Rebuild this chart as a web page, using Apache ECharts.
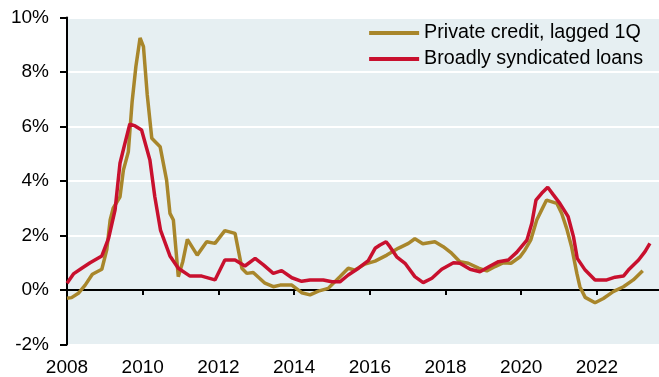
<!DOCTYPE html>
<html>
<head>
<meta charset="utf-8">
<script src="https://cdn.jsdelivr.net/npm/echarts@6/dist/echarts.min.js"></script>
<style>
  html, body { margin: 0; padding: 0; background: #fff; }
  #chart { width: 659px; height: 377px; }
</style>
</head>
<body>
<div id="chart"></div>
<script>
// series names
var seriesNames = ['Private credit, lagged 1Q', 'Broadly syndicated loans'];

// year ticks on the x axis
var yearTicks = [2008, 2010, 2012, 2014, 2016, 2018, 2020, 2022];

// private credit (lagged 1Q), default rate %
var pcDates = [2008.00, 2008.12, 2008.30, 2008.48, 2008.67, 2008.92, 2009.05, 2009.14, 2009.22, 2009.40,
  2009.49, 2009.62, 2009.72, 2009.82, 2009.93, 2010.02, 2010.12, 2010.24, 2010.46, 2010.63,
  2010.72, 2010.81, 2010.94, 2010.99, 2011.06, 2011.18, 2011.44, 2011.69, 2011.91, 2012.17,
  2012.44, 2012.62, 2012.75, 2012.92, 2013.23, 2013.45, 2013.63, 2013.94, 2014.20, 2014.42,
  2014.64, 2014.90, 2015.21, 2015.43, 2015.61, 2015.87, 2016.14, 2016.45, 2016.75, 2017.02,
  2017.19, 2017.40, 2017.72, 2017.94, 2018.16, 2018.38, 2018.60, 2018.87, 2019.09, 2019.31,
  2019.53, 2019.73, 2019.97, 2020.10, 2020.25, 2020.41, 2020.54, 2020.67, 2020.94, 2021.07,
  2021.20, 2021.33, 2021.47, 2021.55, 2021.69, 2021.95, 2022.17, 2022.43, 2022.70, 2022.96,
  2023.21];
var pcValues = [-0.30, -0.28, -0.12, 0.18, 0.58, 0.76, 1.47, 2.57, 3.00, 3.42,
  4.40, 5.07, 6.90, 8.20, 9.25, 8.93, 7.16, 5.57, 5.26, 4.04,
  2.81, 2.57, 0.49, 0.43, 1.05, 1.86, 1.28, 1.77, 1.71, 2.18,
  2.08, 0.80, 0.61, 0.64, 0.25, 0.12, 0.18, 0.18, -0.10, -0.18,
  -0.04, 0.06, 0.49, 0.80, 0.73, 0.95, 1.06, 1.28, 1.53, 1.71,
  1.88, 1.70, 1.77, 1.59, 1.35, 1.04, 0.98, 0.80, 0.70, 0.86,
  1.00, 0.98, 1.22, 1.47, 1.83, 2.57, 2.94, 3.30, 3.18, 2.81,
  2.26, 1.59, 0.61, 0.12, -0.27, -0.47, -0.31, -0.06, 0.12, 0.37,
  0.71];

// broadly syndicated loans, default rate %
var bslDates = [2008.00, 2008.17, 2008.39, 2008.61, 2008.92, 2009.10, 2009.27, 2009.40, 2009.53, 2009.66,
  2009.80, 2009.97, 2010.19, 2010.32, 2010.47, 2010.72, 2010.94, 2011.25, 2011.56, 2011.91,
  2012.17, 2012.44, 2012.70, 2012.97, 2013.19, 2013.45, 2013.67, 2013.94, 2014.20, 2014.42,
  2014.77, 2015.00, 2015.21, 2015.43, 2015.70, 2015.96, 2016.14, 2016.27, 2016.43, 2016.53,
  2016.71, 2016.93, 2017.19, 2017.41, 2017.64, 2017.90, 2018.21, 2018.38, 2018.65, 2018.91,
  2019.18, 2019.40, 2019.66, 2019.88, 2020.15, 2020.28, 2020.39, 2020.54, 2020.70, 2020.85,
  2021.02, 2021.24, 2021.38, 2021.48, 2021.69, 2021.95, 2022.26, 2022.48, 2022.70, 2022.83,
  2023.10, 2023.27, 2023.40];
var bslValues = [0.25, 0.59, 0.80, 1.00, 1.25, 1.90, 2.94, 4.65, 5.38, 6.09,
  6.02, 5.87, 4.77, 3.42, 2.20, 1.25, 0.80, 0.51, 0.51, 0.37,
  1.10, 1.10, 0.88, 1.16, 0.92, 0.61, 0.71, 0.45, 0.32, 0.37,
  0.37, 0.30, 0.30, 0.55, 0.80, 1.08, 1.53, 1.65, 1.77, 1.59,
  1.22, 0.98, 0.49, 0.27, 0.43, 0.76, 1.00, 0.98, 0.76, 0.67,
  0.88, 1.04, 1.10, 1.38, 1.83, 2.45, 3.30, 3.55, 3.77, 3.49,
  3.18, 2.69, 1.96, 1.16, 0.73, 0.37, 0.37, 0.47, 0.51, 0.73,
  1.10, 1.41, 1.71];

function pairs(xs, ys) {
  return xs.map(function (x, i) { return [x, ys[i]]; });
}

var myChart = echarts.init(document.getElementById('chart'));
var font = '"Liberation Sans", Arial, sans-serif';

var option = {
  animation: false,
  textStyle: { fontFamily: font },
  grid: {
    left: 67, right: 0, top: 17.5, bottom: 32.5,
    outerBoundsMode: 'none',
    containLabel: false,
    show: true, backgroundColor: '#e6eff2', borderWidth: 0
  },
  legend: {
    orient: 'vertical',
    right: 16, top: 23,
    padding: 0,
    align: 'left',
    icon: 'rect',
    itemWidth: 50, itemHeight: 4,
    itemGap: 6,
    textStyle: { fontSize: 19.7, color: '#000', fontFamily: font },
    data: seriesNames
  },
  xAxis: [
    {
      // axis line drawn at 0%
      type: 'value',
      min: 2008, max: 2023.64,
      axisLine: { onZero: true, lineStyle: { color: '#000', width: 2 } },
      axisTick: { show: true, length: 5, customValues: yearTicks, lineStyle: { color: '#000', width: 2 } },
      axisLabel: { show: false },
      splitLine: { show: false }
    },
    {
      // year labels along the bottom
      type: 'value',
      position: 'bottom',
      min: 2008, max: 2023.64,
      axisLine: { show: false, onZero: false },
      axisTick: { show: false },
      axisLabel: {
        margin: 14, fontSize: 19, color: '#000', fontFamily: font,
        customValues: yearTicks,
        formatter: function (v) { return String(v); }
      },
      splitLine: { show: false }
    }
  ],
  yAxis: {
    type: 'value',
    min: -2, max: 10, interval: 2,
    axisLine: { show: true, lineStyle: { color: '#000', width: 2 } },
    axisTick: { show: true, length: 7, lineStyle: { color: '#000', width: 2 } },
    axisLabel: { margin: 18, fontSize: 19, color: '#000', fontFamily: font, formatter: '{value}%' },
    splitLine: { show: true, lineStyle: { color: '#fff', width: 2 } }
  },
  series: [
    {
      name: seriesNames[0],
      type: 'line',
      xAxisIndex: 0,
      showSymbol: false,
      color: '#a8862b',
      lineStyle: { width: 3.5, color: '#a8862b' },
      data: pairs(pcDates, pcValues)
    },
    {
      name: seriesNames[1],
      type: 'line',
      xAxisIndex: 0,
      showSymbol: false,
      color: '#c8102e',
      lineStyle: { width: 3.5, color: '#c8102e' },
      data: pairs(bslDates, bslValues)
    }
  ]
};
myChart.setOption(option);
</script>
</body>
</html>
